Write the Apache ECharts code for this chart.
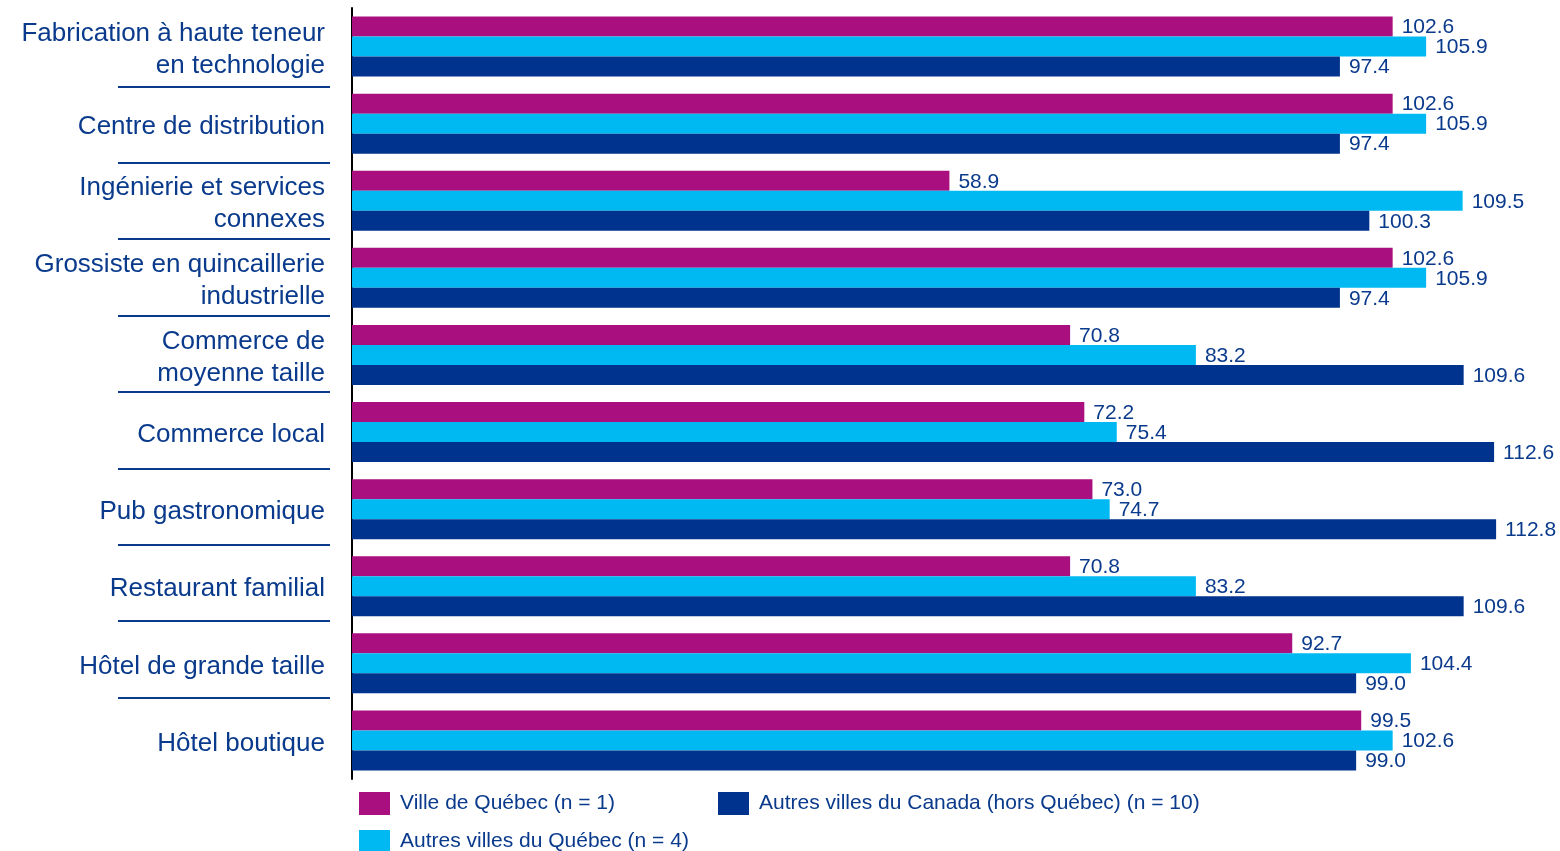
<!DOCTYPE html>
<html>
<head>
<meta charset="utf-8">
<title>Indices par type d'entreprise</title>
<script src="https://cdn.jsdelivr.net/npm/echarts@6/dist/echarts.min.js"></script>
<style>
  html, body { margin: 0; padding: 0; background: #fff; }
  #chart { width: 1560px; height: 851px; }
</style>
</head>
<body>
<div id="chart"></div>
<script>
// categories (top to bottom)
const categories = [
  'Fabrication à haute teneur\nen technologie',
  'Centre de distribution',
  'Ingénierie et services\nconnexes',
  'Grossiste en quincaillerie\nindustrielle',
  'Commerce de\nmoyenne taille',
  'Commerce local',
  'Pub gastronomique',
  'Restaurant familial',
  'Hôtel de grande taille',
  'Hôtel boutique'
];

const villeQuebec = [102.6, 102.6, 58.9, 102.6, 70.8, 72.2, 73.0, 70.8, 92.7, 99.5];
const autresQuebec = [105.9, 105.9, 109.5, 105.9, 83.2, 75.4, 74.7, 83.2, 104.4, 102.6];
const autresCanada = [97.4, 97.4, 100.3, 97.4, 109.6, 112.6, 112.8, 109.6, 99.0, 99.0];

const seriesNames = [
  'Ville de Québec (n = 1)',
  'Autres villes du Québec (n = 4)',
  'Autres villes du Canada (hors Québec) (n = 10)'
];

const MAGENTA = '#a90f7e';
const CYAN = '#00b9f2';
const NAVY = '#00338d';
const TEXT = '#0a3a8c';
const FONT = '"Liberation Sans", Arial, sans-serif';

const chart = echarts.init(document.getElementById('chart'));

function barSeries(name, data, color) {
  return {
    name: name,
    type: 'bar',
    xAxisIndex: 0,
    yAxisIndex: 0,
    data: data,
    barWidth: 20,
    barGap: '0%',
    itemStyle: { color: color },
    label: {
      show: true,
      position: 'right',
      distance: 9,
      offset: [0, 1],
      color: TEXT,
      fontFamily: FONT,
      fontSize: 21,
      formatter: p => p.value.toFixed(1)
    },
    animation: false
  };
}

function legendAt(name, left, top) {
  return {
    data: [name],
    left: left,
    top: top,
    padding: 0,
    orient: 'horizontal',
    itemWidth: 31,
    itemHeight: 23,
    icon: 'rect',
    selectedMode: false,
    textStyle: { color: TEXT, fontFamily: FONT, fontSize: 21, padding: [0, 0, 0, 5] }
  };
}

const option = {
  backgroundColor: '#fff',
  animation: false,
  grid: [
    // bars
    { left: 352, top: 8, width: 1207, height: 771, containLabel: false },
    // separator lines under the category labels
    { left: 118, top: 10, width: 212, height: 764, containLabel: false },
    // category labels (a touch lower than the bars)
    { left: 352, top: 11, width: 1207, height: 771, containLabel: false }
  ],
  xAxis: [
    { type: 'value', gridIndex: 0, min: 0, max: 119, show: false },
    { type: 'value', gridIndex: 1, min: 0, max: 1, show: false },
    { type: 'value', gridIndex: 2, min: 0, max: 1, show: false }
  ],
  yAxis: [
    {
      type: 'category',
      gridIndex: 0,
      data: categories,
      inverse: true,
      axisLine: { show: true, lineStyle: { color: '#000', width: 2 } },
      axisTick: { show: false },
      splitLine: { show: false },
      axisLabel: { show: false }
    },
    {
      type: 'category',
      gridIndex: 1,
      data: categories,
      inverse: true,
      axisLine: { show: false },
      axisTick: { show: false },
      axisLabel: { show: false },
      splitLine: {
        show: true,
        showMinLine: false,
        showMaxLine: false,
        lineStyle: { color: '#0a3a8c', width: 2 }
      }
    },
    {
      type: 'category',
      gridIndex: 2,
      data: categories,
      inverse: true,
      axisLine: { show: false },
      axisTick: { show: false },
      splitLine: { show: false },
      axisLabel: {
        margin: 27,
        color: TEXT,
        fontFamily: FONT,
        fontSize: 26,
        lineHeight: 32,
        align: 'right'
      }
    }
  ],
  legend: [
    legendAt(seriesNames[0], 359, 792),
    legendAt(seriesNames[2], 718, 792),
    legendAt(seriesNames[1], 359, 830)
  ],
  series: [
    barSeries(seriesNames[0], villeQuebec, MAGENTA),
    barSeries(seriesNames[1], autresQuebec, CYAN),
    barSeries(seriesNames[2], autresCanada, NAVY)
  ]
};

chart.setOption(option);
</script>
</body>
</html>
